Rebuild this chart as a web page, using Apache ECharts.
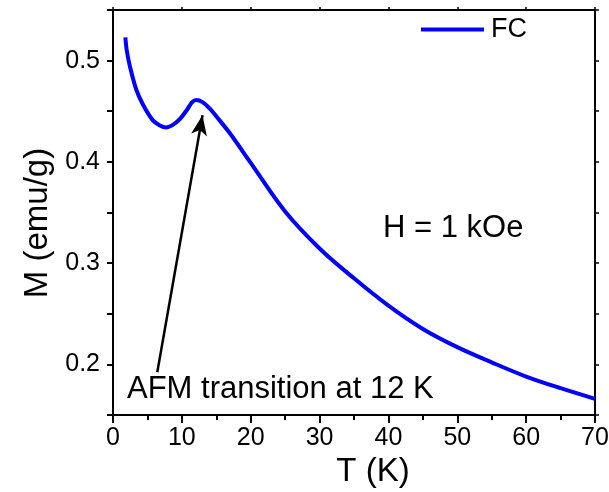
<!DOCTYPE html>
<html>
<head>
<meta charset="utf-8">
<script src="https://cdn.jsdelivr.net/npm/echarts@6/dist/echarts.min.js"></script>
<style>html,body{margin:0;padding:0;background:#fff;overflow:hidden}#c{width:609px;height:492px}</style>
</head>
<body>
<div id="c"></div>
<script>
// Data
const temperature = [1.8, 2.0, 2.5, 3.4, 4.4, 5.8, 6.8, 7.7, 8.8, 9.8, 10.8, 11.5, 12.1, 13, 14, 15, 17, 20, 25, 30, 35, 40, 45, 50, 55, 60, 65, 70];
const magnetization = [0.523, 0.510, 0.493, 0.471, 0.456, 0.441, 0.436, 0.434, 0.437, 0.443, 0.452, 0.459, 0.461, 0.459, 0.453, 0.445, 0.428, 0.399, 0.351, 0.3145, 0.285, 0.258, 0.235, 0.217, 0.202, 0.188, 0.1765, 0.166];
const yLabelTicks = ['0.2', '0.3', '0.4', '0.5'];
const arrowTail = [6.43, 0.1923];
const arrowHead = [13.0, 0.446];
const seriesName = 'FC';
const xTitle = 'T (K)';
const yTitle = 'M (emu/g)';
const noteAFM = 'AFM transition at 12 K';
const noteField = 'H = 1 kOe';

const font = 'Liberation Sans, Arial, sans-serif';
const chart = echarts.init(document.getElementById('c'));
const data = temperature.map((t, i) => [t, magnetization[i]]);

function ls(w) { return {color: '#000', width: w}; }
function noteStyle(size) { return {fontFamily: font, fontSize: size, fontWeight: 'normal', color: '#000'}; }
function yLabel(v) {
  const s = v.toFixed(2);
  const short = v.toFixed(1);
  return (s.endsWith('0') && yLabelTicks.indexOf(short) >= 0) ? short : '';
}

chart.setOption({
  animation: false,
  grid: {left: 113, right: 14, top: 10, bottom: 77, containLabel: false, outerBoundsMode: 'none',
    show: true, borderColor: '#000', borderWidth: 2, backgroundColor: 'transparent'},
  title: [
    {text: noteAFM, left: 127, top: 374, padding: 0, textStyle: noteStyle(31)},
    {text: noteField, left: 383, top: 213, padding: 0, textStyle: noteStyle(31)}
  ],
  legend: {
    data: [{name: seriesName, icon: 'rect'}],
    left: 421, top: 16, padding: 0,
    itemWidth: 63, itemHeight: 4,
    textStyle: {fontFamily: font, fontSize: 27, color: '#000', padding: [0, 0, 0, 2]}
  },
  xAxis: [
    {
      type: 'value', min: 0, max: 70, interval: 10, position: 'bottom',
      name: xTitle, nameLocation: 'middle', nameGap: 39,
      nameTextStyle: {fontFamily: font, fontSize: 33, color: '#000', padding: [0, 0, 0, 38]},
      axisLine: {onZero: false, lineStyle: ls(2)},
      axisTick: {inside: false, length: 8, lineStyle: ls(2)},
      minorTick: {show: true, splitNumber: 2, length: 5, lineStyle: ls(2)},
      axisLabel: {fontFamily: font, fontSize: 25, color: '#000', margin: 11},
      splitLine: {show: false}
    },
    {
      type: 'value', min: 0, max: 70, interval: 10, position: 'top',
      axisLine: {show: true, onZero: false, lineStyle: ls(2)},
      axisTick: {show: true, length: 3, lineStyle: ls(1.5)},
      axisLabel: {show: false},
      splitLine: {show: false}
    }
  ],
  yAxis: [
    {
      type: 'value', min: 0.15, max: 0.55, interval: 0.05, position: 'left',
      name: yTitle, nameLocation: 'middle', nameRotate: 90, nameGap: 58,
      nameTextStyle: {fontFamily: font, fontSize: 33, color: '#000', padding: [0, 21, 0, 0]},
      axisLine: {show: true, onZero: false, lineStyle: ls(2)},
      axisTick: {show: true, length: 6, lineStyle: ls(2)},
      axisLabel: {fontFamily: font, fontSize: 25, color: '#000', margin: 13, formatter: yLabel,
        showMinLabel: true, showMaxLabel: true},
      splitLine: {show: false}
    },
    {
      type: 'value', min: 0.15, max: 0.55, interval: 0.05, position: 'right',
      axisLine: {show: true, onZero: false, lineStyle: ls(2)},
      axisTick: {show: true, length: 4, lineStyle: ls(1.5)},
      axisLabel: {show: false},
      splitLine: {show: false}
    }
  ],
  series: [{
    name: seriesName,
    type: 'line',
    data: data,
    smooth: 0.35,
    showSymbol: false,
    lineStyle: {color: '#0000ff', width: 4},
    itemStyle: {color: '#0000ff'},
    markLine: {
      silent: true,
      symbol: ['none', 'arrow'],
      symbolSize: [12, 20],
      label: {show: false},
      lineStyle: {color: '#000', width: 2.5, type: 'solid'},
      data: [[{coord: arrowTail}, {coord: arrowHead}]]
    }
  }]
});
</script>
</body>
</html>
